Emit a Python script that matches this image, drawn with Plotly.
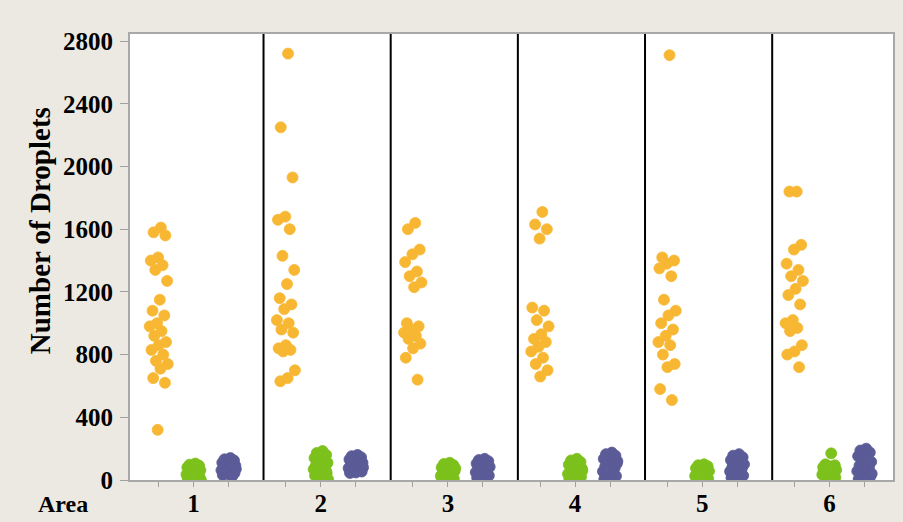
import plotly.graph_objects as go

# Droplet counts per sampling area, three groups per area
areas = [1, 2, 3, 4, 5, 6]
area_labels = ["1", "2", "3", "4", "5", "6"]

yellow_counts = [
    [1610, 1580, 1560, 1420, 1400, 1370, 1340, 1270, 1150, 1080, 1050, 1000, 980,
     950, 920, 880, 860, 830, 800, 760, 740, 710, 650, 620, 320],
    [2720, 2250, 1930, 1680, 1660, 1600, 1430, 1340, 1250, 1160, 1120, 1090, 1020,
     1000, 960, 940, 860, 840, 830, 820, 700, 650, 630],
    [1640, 1600, 1470, 1440, 1390, 1330, 1300, 1260, 1230, 1000, 980, 960, 940,
     920, 900, 870, 840, 780, 640],
    [1710, 1630, 1600, 1540, 1100, 1080, 1020, 980, 930, 900, 880, 850, 820, 780,
     740, 700, 660],
    [2710, 1420, 1400, 1380, 1350, 1300, 1150, 1080, 1050, 1000, 960, 920, 880,
     860, 800, 740, 720, 580, 510],
    [1840, 1840, 1500, 1470, 1380, 1340, 1300, 1270, 1220, 1180, 1120, 1020, 1000,
     970, 950, 860, 820, 800, 720],
]

green_counts = [
    [105, 98, 92, 86, 80, 74, 68, 62, 56, 50, 45, 40, 35, 30, 25, 20, 15, 10, 6, 2, 0, 60, 40, 85, 20],
    [185, 172, 160, 150, 140, 130, 120, 110, 100, 92, 84, 76, 68, 60, 52, 44, 36, 28, 20, 12, 5, 0, 90, 60, 30],
    [110, 102, 95, 88, 80, 72, 65, 58, 50, 44, 38, 32, 26, 20, 14, 8, 3, 0, 55, 35, 75, 15],
    [135, 125, 115, 106, 98, 90, 82, 74, 66, 58, 50, 44, 38, 32, 26, 20, 14, 8, 3, 0, 60, 40],
    [100, 94, 88, 82, 75, 68, 62, 56, 50, 44, 38, 32, 26, 20, 14, 8, 3, 0, 45, 30],
    [170, 100, 94, 88, 82, 76, 70, 64, 58, 52, 46, 40, 34, 28, 22, 16, 10, 60, 40, 80],
]

purple_counts = [
    [140, 132, 125, 118, 111, 104, 98, 92, 86, 80, 74, 68, 62, 56, 50, 44, 38, 32, 25, 90, 70, 110, 55],
    [160, 152, 145, 138, 131, 124, 117, 110, 103, 96, 89, 82, 75, 68, 61, 54, 48, 45, 100, 130, 80],
    [135, 127, 120, 112, 105, 98, 91, 84, 77, 70, 63, 56, 49, 42, 35, 28, 21, 15, 90, 60],
    [175, 165, 155, 145, 135, 125, 115, 105, 95, 85, 75, 65, 55, 45, 35, 25, 15, 5, 100, 60, 120],
    [165, 155, 145, 136, 127, 118, 109, 100, 91, 82, 73, 64, 55, 46, 37, 28, 20, 15, 110, 80],
    [200, 188, 176, 164, 152, 140, 128, 116, 104, 92, 80, 68, 56, 44, 32, 22, 12, 5, 120, 70, 40],
]

y_ticks = [0, 400, 800, 1200, 1600, 2000, 2400, 2800]

YELLOW = "#F8B733"
GREEN = "#7CC11C"
PURPLE = "#5B5B98"
SERIF = "Liberation Serif, Times New Roman, serif"

# position of each group inside an area, in area units
group_offset = {"yellow": -0.275, "green": 0.0, "purple": 0.275}
GOLDEN = 0.6180339887


def jittered_x(center, n, spread):
    # deterministic spread of points around the group position
    return [center + (((k + 1) * GOLDEN) % 1.0 - 0.5) * spread for k in range(n)]


fig = go.Figure()

for groups, key, color, spread in [
    (yellow_counts, "yellow", YELLOW, 0.15),
    (green_counts, "green", GREEN, 0.12),
    (purple_counts, "purple", PURPLE, 0.12),
]:
    for area, vals in zip(areas, groups):
        fig.add_trace(go.Scatter(
            x=jittered_x(area + group_offset[key], len(vals), spread),
            y=vals,
            mode="markers",
            marker=dict(color=color, size=11, line=dict(width=0.8, color=color)),
            showlegend=False,
            hoverinfo="y",
        ))

# category ticks: one small tick per group, label under the middle one
tick_vals, tick_text = [], []
for area, lab in zip(areas, area_labels):
    for key in ("yellow", "green", "purple"):
        tick_vals.append(area + group_offset[key])
        tick_text.append(lab if key == "green" else "")

# black separators between areas
for area in areas[:-1]:
    fig.add_shape(type="line", xref="x", yref="paper",
                  x0=area + 0.55, x1=area + 0.55, y0=0, y1=1,
                  line=dict(color="black", width=2))

fig.add_annotation(text="Area", xref="paper", yref="paper", x=-0.088, y=0,
                   xanchor="center", yanchor="middle", showarrow=False, yshift=-24,
                   font=dict(family=SERIF, size=24, color="black", weight="bold"))
fig.add_annotation(text="Number of Droplets", xref="paper", yref="paper",
                   x=-0.118, y=0.56, textangle=-90, xanchor="center", yanchor="middle",
                   showarrow=False,
                   font=dict(family=SERIF, size=29, color="black", weight="bold"))

fig.update_layout(
    width=903, height=522,
    margin=dict(l=130, r=10, t=34, b=42),
    paper_bgcolor="#ECE9E2",
    plot_bgcolor="white",
    xaxis=dict(
        range=[0.5, 6.5], showgrid=False, zeroline=False, automargin=False,
        showline=True, linecolor="#A8A8A8", linewidth=2, mirror=True,
        tickmode="array", tickvals=tick_vals, ticktext=tick_text,
        ticks="outside", ticklen=5, tickwidth=1, tickcolor="#A0A0A0",
        tickfont=dict(family=SERIF, size=25, color="black", weight="bold"),
        ticklabelstandoff=-5,
    ),
    yaxis=dict(
        range=[0, 2845], showgrid=False, zeroline=False, automargin=False,
        showline=True, linecolor="#A8A8A8", linewidth=2, mirror=True,
        tickmode="array", tickvals=y_ticks,
        ticks="outside", ticklen=8, tickwidth=1, tickcolor="#A0A0A0",
        tickfont=dict(family=SERIF, size=25, color="black", weight="bold"),
        ticklabelstandoff=2,
    ),
)

fig.write_html("out.html")
